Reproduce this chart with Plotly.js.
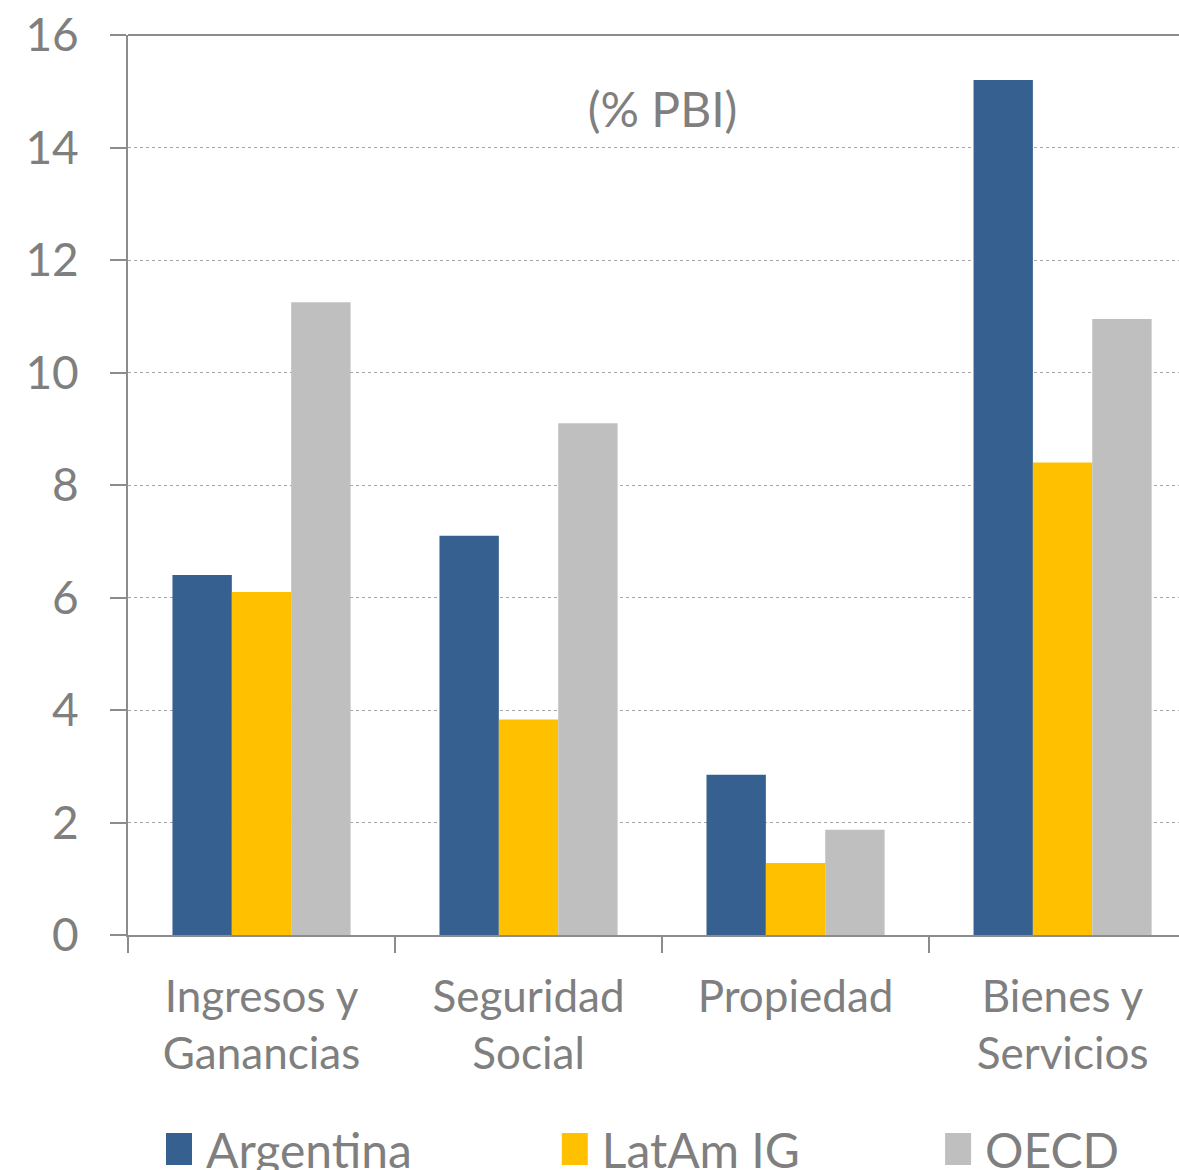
<!DOCTYPE html>
<html>
<head>
<meta charset="utf-8">
<script src="https://cdn.plot.ly/plotly-3.0.1.min.js"></script>
<style>html,body{margin:0;padding:0;background:#fff;}#chart{width:1179px;height:1170px;}</style>
</head>
<body>
<div id="chart"></div>
<script>
const categories = ["Ingresos y<br>Ganancias", "Seguridad<br>Social", "Propiedad", "Bienes y<br>Servicios"];
const argentina = [6.4, 7.1, 2.85, 15.2];
const latam = [6.1, 3.83, 1.28, 8.4];
const oecd = [11.25, 9.1, 1.87, 10.95];
const seriesNames = ["Argentina", "LatAm IG", "OECD"];
const yTicks = [0, 2, 4, 6, 8, 10, 12, 14, 16];

const FONT = "Lato, 'Open Sans', sans-serif";
const GREY = "#7f7f7f";

const traces = [
  {type: "bar", name: seriesNames[0], x: categories, y: argentina, marker: {color: "#36608f"}, legend: "legend"},
  {type: "bar", name: seriesNames[1], x: categories, y: latam, marker: {color: "#ffc000"}, legend: "legend2"},
  {type: "bar", name: seriesNames[2], x: categories, y: oecd, marker: {color: "#bfbfbf"}, legend: "legend3"}
];

function legendAt(xpos) {
  return {
    orientation: "h", x: xpos, xanchor: "left", xref: "container",
    y: 0.0177, yanchor: "middle", yref: "container",
    font: {family: FONT, size: 48, color: GREY}, bgcolor: "rgba(0,0,0,0)", itemclick: false
  };
}

const layout = {
  width: 1179, height: 1170,
  margin: {l: 128, r: 0, t: 35, b: 235},
  paper_bgcolor: "#fff", plot_bgcolor: "#fff",
  font: {family: FONT, color: GREY, size: 44},
  barmode: "group", bargap: 0.333, bargroupgap: 0,
  showlegend: true,
  title: {text: "(% PBI)", font: {family: FONT, size: 48, color: GREY}, x: 0.562, xanchor: "center", xref: "container", y: 0.906, yanchor: "middle", yref: "container"},
  xaxis: {
    type: "category", range: [-0.5, 3.436],
    showline: true, linecolor: "#8c8c8c", linewidth: 2,
    ticks: "outside", tickson: "boundaries", ticklen: 16, tickcolor: "#8c8c8c", tickwidth: 2,
    ticklabelstandoff: 22,
    showgrid: false, tickfont: {family: FONT, size: 44, color: GREY}, automargin: false
  },
  yaxis: {
    range: [0, 16], tickvals: yTicks, ticktext: yTicks.map(String),
    showline: true, linecolor: "#8c8c8c", linewidth: 2,
    ticks: "outside", ticklen: 16, tickcolor: "#8c8c8c", tickwidth: 2,
    ticklabelstandoff: 22,
    showgrid: true, gridcolor: "#a6a6a6", gridwidth: 1, griddash: "dot",
    zeroline: false, tickfont: {family: FONT, size: 46, color: GREY}, automargin: false
  },
  legend: legendAt(0.1408),
  legend2: legendAt(0.4765),
  legend3: legendAt(0.8016),
  shapes: [{type: "line", xref: "paper", yref: "paper", x0: 0, x1: 1, y0: 1, y1: 1, line: {color: "#8c8c8c", width: 2}}]
};

Plotly.newPlot("chart", traces, layout, {displayModeBar: false, staticPlot: true}).then(function(){
  document.querySelectorAll(".legendpoints path").forEach(function(p){
    p.setAttribute("d", "M6,16H-26V-16H6Z");
  });
});
</script>
</body>
</html>
